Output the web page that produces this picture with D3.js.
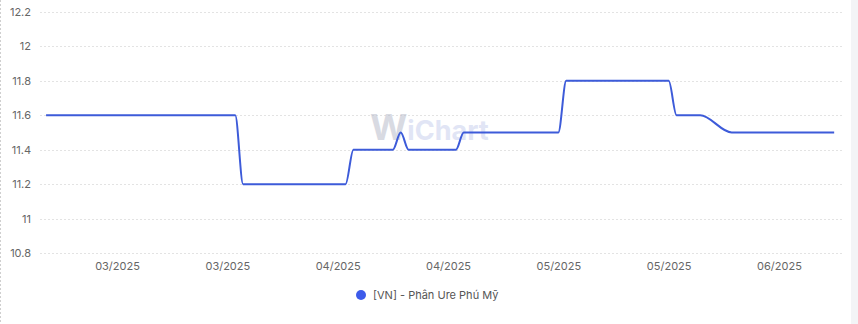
<!DOCTYPE html>
<html>
<head>
<meta charset="utf-8">
<script src="https://cdn.jsdelivr.net/npm/d3@7"></script>
<style>
    body { margin: 0; background: #fff; font-family: Inter, "Noto Sans", sans-serif; }
</style>
</head>
<body>
<script>
// corner points of the price series (date, value)
var dates = ["2025-02-28", "2025-03-24", "2025-03-25", "2025-04-07", "2025-04-08", "2025-04-13",
    "2025-04-14", "2025-04-15", "2025-04-21", "2025-04-22", "2025-05-04", "2025-05-05",
    "2025-05-18", "2025-05-19", "2025-05-22", "2025-05-26", "2025-06-08"];
var prices = [11.6, 11.6, 11.2, 11.2, 11.4, 11.4,
    11.5, 11.4, 11.4, 11.5, 11.5, 11.8,
    11.8, 11.6, 11.6, 11.5, 11.5];
var tickDates = ["2025-03-09", "2025-03-23", "2025-04-06", "2025-04-20", "2025-05-04", "2025-05-18", "2025-06-01"];
var yTicks = [10.8, 11, 11.2, 11.4, 11.6, 11.8, 12, 12.2];
var seriesName = "[VN] - Phân Ure Phú Mỹ";

var w = 858;
var h = 324;
var parse = d3.timeParse("%Y-%m-%d");
var dataset = dates.map(function (d, i) {
    return { date: parse(d), value: prices[i] };
});

var svg = d3.select("body").append("svg").attr("width", w).attr("height", h);

// page edges
svg.append("line").attr("x1", 0.5).attr("x2", 0.5).attr("y1", 0).attr("y2", h)
    .attr("stroke", "#cfcfcf").attr("stroke-dasharray", "2,2");
svg.append("rect").attr("x", 851).attr("y", 0).attr("width", 7).attr("height", h).attr("fill", "#f3f4f6");

var xScale = d3.scaleTime()
    .domain([parse(tickDates[0]), parse(tickDates[tickDates.length - 1])])
    .range([117, 779]);
var yScale = d3.scaleLinear().domain([10.8, 12.2]).range([253, 12]);

// grid lines
svg.selectAll(".grid").data(yTicks).enter().append("line").attr("class", "grid")
    .attr("x1", 40).attr("x2", 843)
    .attr("y1", d => Math.round(yScale(d)) + 0.5).attr("y2", d => Math.round(yScale(d)) + 0.5)
    .attr("stroke", "#e3e3e3").attr("stroke-dasharray", "2,2");

// y axis
var yAxis = d3.axisLeft(yScale).tickValues(yTicks).tickSize(0).tickPadding(0)
    .tickFormat(d3.format("~g"));
var gy = svg.append("g").attr("transform", "translate(31,0)").call(yAxis);
gy.select(".domain").remove();
gy.selectAll("text").attr("fill", "#666").attr("font-size", 11).attr("font-family", "Inter, sans-serif");

// x axis
var xAxis = d3.axisBottom(xScale).tickValues(tickDates.map(parse)).tickSize(0).tickPadding(0)
    .tickFormat(d3.timeFormat("%m/%Y"));
var gx = svg.append("g").attr("transform", "translate(0,262)").call(xAxis);
gx.select(".domain").remove();
gx.selectAll("text").attr("fill", "#666").attr("font-size", 11).attr("font-family", "Inter, sans-serif");

// watermark
var wm = svg.append("text").attr("x", 370).attr("y", 140).attr("font-family", "Inter, sans-serif")
    .attr("font-weight", "bold").attr("opacity", 0.55);
wm.append("tspan").attr("font-size", 36).attr("fill", "#b9bccb").text("W");
wm.append("tspan").attr("font-size", 27).attr("fill", "#c9d0ee").text("iChart");

// line
var line = d3.line()
    .x(d => xScale(d.date))
    .y(d => yScale(d.value))
    .curve(d3.curveMonotoneX);
svg.append("path").datum(dataset)
    .attr("d", line)
    .attr("fill", "none")
    .attr("stroke", "#3d5bd9")
    .attr("stroke-width", 2);

// legend
svg.append("circle").attr("cx", 361).attr("cy", 295).attr("r", 5).attr("fill", "#3d5bea");
svg.append("text").attr("x", 373).attr("y", 299).attr("font-size", 11).attr("fill", "#555")
    .attr("font-family", "Inter, sans-serif").text(seriesName);
</script>
</body>
</html>
